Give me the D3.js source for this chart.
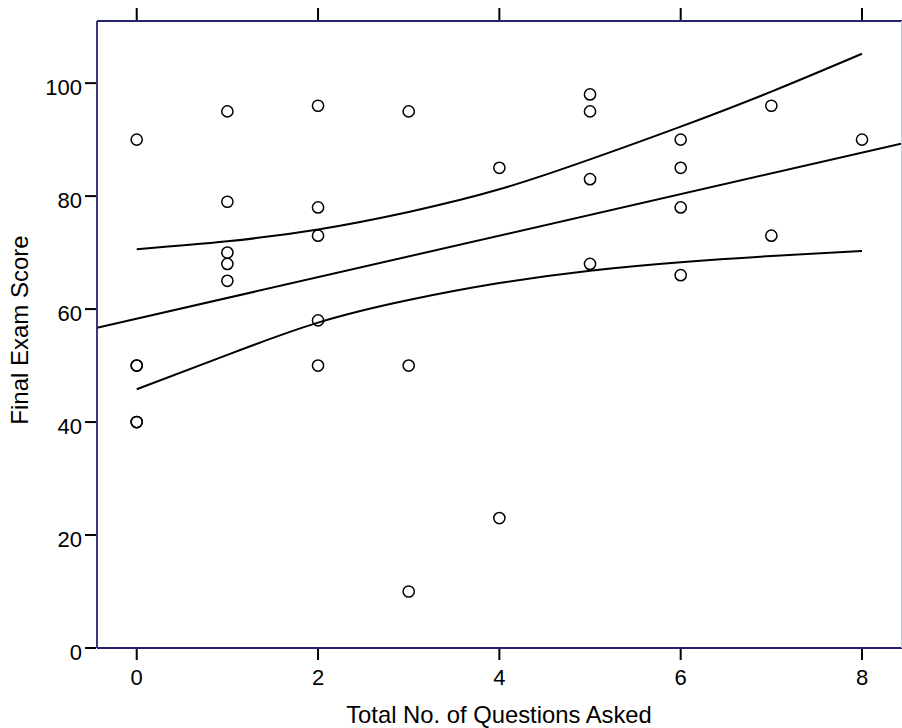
<!DOCTYPE html>
<html>
<head>
<meta charset="utf-8">
<script src="https://cdn.jsdelivr.net/npm/d3@7"></script>
<style>
  html, body { margin: 0; padding: 0; background: #fff; }
  svg { display: block; }
  text { font-family: "Liberation Sans", Arial, sans-serif; fill: #000; }
</style>
</head>
<body>
<svg id="chart" width="902" height="728"></svg>
<script>
// ---- data ----
const questionsAsked = [0,0,0,0,0, 1,1,1,1,1, 2,2,2,2,2, 3,3,3, 4,4, 5,5,5,5, 6,6,6,6, 7,7, 8];
const examScores     = [90,50,50,40,40, 95,79,70,68,65, 96,78,73,58,50, 95,50,10, 85,23, 98,95,83,68, 90,85,78,66, 96,73, 90];
const fitX = [0, 8];
const fitY = [58.3, 87.7];
const ciX = [0, 1, 2, 3, 4, 5, 6, 7, 8];
const ciUpper = [70.6, 72.0, 74.1, 77.2, 81.2, 86.5, 92.3, 98.5, 105.2];
const ciLower = [45.8, 51.9, 57.6, 61.6, 64.6, 66.8, 68.3, 69.4, 70.3];
const xTicks = [0, 2, 4, 6, 8];
const yTicks = [0, 20, 40, 60, 80, 100];
const xTitle = "Total No. of Questions Asked";
const yTitle = "Final Exam Score";

// ---- layout ----
const L = 97, R = 901, T = 21, B = 648;
const svg = d3.select("#chart");
const x = d3.scaleLinear().domain([-0.438, 8.43]).range([L, R]);
const y = d3.scaleLinear().domain([0, 111]).range([B, T]);

svg.append("defs").append("clipPath").attr("id", "clip")
  .append("rect").attr("x", L).attr("y", T).attr("width", R - L).attr("height", B - T);

const plot = svg.append("g").attr("clip-path", "url(#clip)");

// points
plot.selectAll("circle.pt")
  .data(questionsAsked.map((q, i) => ({ q, s: examScores[i] })))
  .join("circle")
  .attr("class", "pt")
  .attr("cx", d => x(d.q))
  .attr("cy", d => y(d.s))
  .attr("r", 5.6)
  .attr("fill", "none")
  .attr("stroke", "#000")
  .attr("stroke-width", 1.5);

// fit line across full domain
const fit = d3.scaleLinear().domain(fitX).range(fitY);
const dom = x.domain();
plot.append("path")
  .datum(dom.map(v => [v, fit(v)]))
  .attr("d", d3.line().x(d => x(d[0])).y(d => y(d[1])))
  .attr("fill", "none").attr("stroke", "#000").attr("stroke-width", 2);

// confidence band curves
const ciLine = d3.line().x(d => x(d[0])).y(d => y(d[1])).curve(d3.curveNatural);
[ciUpper, ciLower].forEach(arr => {
  plot.append("path")
    .datum(ciX.map((v, i) => [v, arr[i]]))
    .attr("d", ciLine)
    .attr("fill", "none").attr("stroke", "#000").attr("stroke-width", 2);
});

// frame
const navy = "#24246e";
svg.append("line").attr("x1", L).attr("x2", L).attr("y1", T).attr("y2", B)
  .attr("stroke", navy).attr("stroke-width", 1.8);
svg.append("line").attr("x1", L).attr("x2", 902).attr("y1", T).attr("y2", T)
  .attr("stroke", navy).attr("stroke-width", 1.8);
svg.append("line").attr("x1", L).attr("x2", 902).attr("y1", B).attr("y2", B)
  .attr("stroke", navy).attr("stroke-width", 1.8);
svg.append("line").attr("x1", R + 0.5).attr("x2", R + 0.5).attr("y1", T).attr("y2", B)
  .attr("stroke", "#c8c8dc").attr("stroke-width", 1);

// x axis (bottom) and mirrored top ticks
const xAxisG = svg.append("g");
xTicks.forEach(t => {
  xAxisG.append("line").attr("x1", x(t)).attr("x2", x(t)).attr("y1", B + 1).attr("y2", B + 12)
    .attr("stroke", "#000").attr("stroke-width", 2);
  xAxisG.append("line").attr("x1", x(t)).attr("x2", x(t)).attr("y1", 8).attr("y2", T - 1)
    .attr("stroke", "#000").attr("stroke-width", 2);
  xAxisG.append("text").attr("x", x(t)).attr("y", 685)
    .attr("text-anchor", "middle").attr("font-size", 22).text(t);
});

// y axis
const yAxisG = svg.append("g");
yTicks.forEach(t => {
  yAxisG.append("line").attr("x1", 85).attr("x2", L - 1).attr("y1", y(t)).attr("y2", y(t))
    .attr("stroke", "#000").attr("stroke-width", 2);
  yAxisG.append("text").attr("x", 82).attr("y", y(t) + 12)
    .attr("text-anchor", "end").attr("font-size", 22).text(t);
});

// titles
svg.append("text").attr("x", 499).attr("y", 723)
  .attr("text-anchor", "middle").attr("font-size", 23.8).text(xTitle);
svg.append("text")
  .attr("transform", "translate(28,330) rotate(-90)")
  .attr("text-anchor", "middle").attr("font-size", 24).text(yTitle);
</script>
</body>
</html>
